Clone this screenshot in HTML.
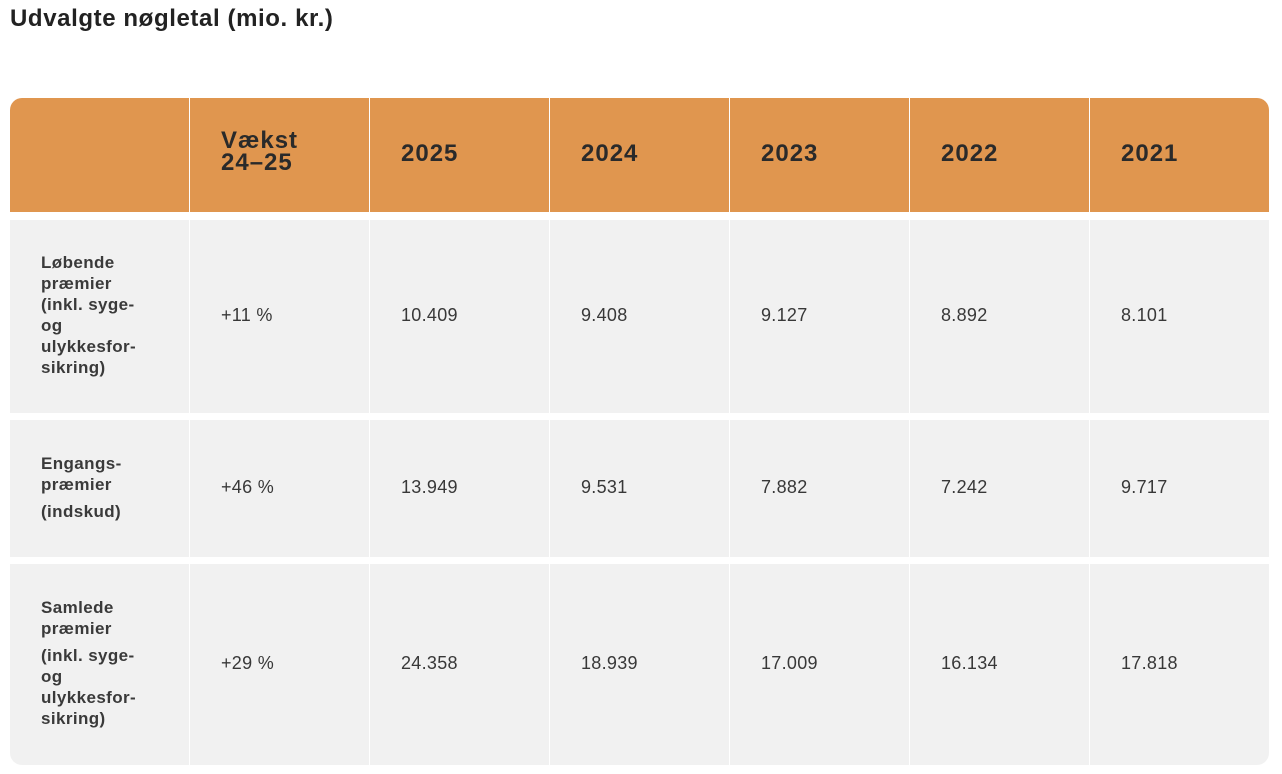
<!DOCTYPE html>
<html><head><meta charset="utf-8"><style>
body{margin:0;width:1282px;height:774px;background:#fff;font-family:"Liberation Sans",sans-serif;position:relative;overflow:hidden}
.t{position:absolute;left:10px;top:5px;font-size:24px;font-weight:bold;color:#222;letter-spacing:0.6px}
.c{position:absolute;box-sizing:border-box}
.h{background:#e0964f}
.b{background:#f1f1f1}
.ht{position:absolute;font-size:24px;font-weight:bold;color:#2a2a2a;line-height:22px;letter-spacing:1px}
.v{position:absolute;font-size:18px;color:#383838;line-height:20px;letter-spacing:0.3px}
.l{position:absolute;left:41px;font-size:17px;font-weight:bold;color:#3a3a3a;line-height:21px;letter-spacing:0.4px}
</style></head><body>
<div class="t">Udvalgte nøgletal (mio. kr.)</div>
<div class="c h" style="left:10px;top:98px;width:179px;height:114px;border-top-left-radius:12px"></div>
<div class="c h" style="left:190px;top:98px;width:179px;height:114px"></div>
<div class="c h" style="left:370px;top:98px;width:179px;height:114px"></div>
<div class="c h" style="left:550px;top:98px;width:179px;height:114px"></div>
<div class="c h" style="left:730px;top:98px;width:179px;height:114px"></div>
<div class="c h" style="left:910px;top:98px;width:179px;height:114px"></div>
<div class="c h" style="left:1090px;top:98px;width:179px;height:114px;border-top-right-radius:12px"></div>

<div class="c b" style="left:10px;top:220px;width:179px;height:193px"></div>
<div class="c b" style="left:190px;top:220px;width:179px;height:193px"></div>
<div class="c b" style="left:370px;top:220px;width:179px;height:193px"></div>
<div class="c b" style="left:550px;top:220px;width:179px;height:193px"></div>
<div class="c b" style="left:730px;top:220px;width:179px;height:193px"></div>
<div class="c b" style="left:910px;top:220px;width:179px;height:193px"></div>
<div class="c b" style="left:1090px;top:220px;width:179px;height:193px"></div>

<div class="c b" style="left:10px;top:420px;width:179px;height:137px"></div>
<div class="c b" style="left:190px;top:420px;width:179px;height:137px"></div>
<div class="c b" style="left:370px;top:420px;width:179px;height:137px"></div>
<div class="c b" style="left:550px;top:420px;width:179px;height:137px"></div>
<div class="c b" style="left:730px;top:420px;width:179px;height:137px"></div>
<div class="c b" style="left:910px;top:420px;width:179px;height:137px"></div>
<div class="c b" style="left:1090px;top:420px;width:179px;height:137px"></div>

<div class="c b" style="left:10px;top:564px;width:179px;height:201px;border-bottom-left-radius:12px"></div>
<div class="c b" style="left:190px;top:564px;width:179px;height:201px"></div>
<div class="c b" style="left:370px;top:564px;width:179px;height:201px"></div>
<div class="c b" style="left:550px;top:564px;width:179px;height:201px"></div>
<div class="c b" style="left:730px;top:564px;width:179px;height:201px"></div>
<div class="c b" style="left:910px;top:564px;width:179px;height:201px"></div>
<div class="c b" style="left:1090px;top:564px;width:179px;height:201px;border-bottom-right-radius:12px"></div>

<div class="ht" style="left:221px;top:130px">Vækst<br>24–25</div>
<div class="ht" style="left:401px;top:143px">2025</div>
<div class="ht" style="left:581px;top:143px">2024</div>
<div class="ht" style="left:761px;top:143px">2023</div>
<div class="ht" style="left:941px;top:143px">2022</div>
<div class="ht" style="left:1121px;top:143px">2021</div>

<div class="l" style="top:252px">Løbende<br>præmier<br>(inkl. syge-<br>og<br>ulykkesfor-<br>sikring)</div>
<div class="v" style="left:221px;top:305px">+11 %</div>
<div class="v" style="left:401px;top:305px">10.409</div>
<div class="v" style="left:581px;top:305px">9.408</div>
<div class="v" style="left:761px;top:305px">9.127</div>
<div class="v" style="left:941px;top:305px">8.892</div>
<div class="v" style="left:1121px;top:305px">8.101</div>

<div class="l" style="top:453px">Engangs-<br>præmier</div>
<div class="l" style="top:501px">(indskud)</div>
<div class="v" style="left:221px;top:477px">+46 %</div>
<div class="v" style="left:401px;top:477px">13.949</div>
<div class="v" style="left:581px;top:477px">9.531</div>
<div class="v" style="left:761px;top:477px">7.882</div>
<div class="v" style="left:941px;top:477px">7.242</div>
<div class="v" style="left:1121px;top:477px">9.717</div>

<div class="l" style="top:597px">Samlede<br>præmier</div>
<div class="l" style="top:645px">(inkl. syge-<br>og<br>ulykkesfor-<br>sikring)</div>
<div class="v" style="left:221px;top:653px">+29 %</div>
<div class="v" style="left:401px;top:653px">24.358</div>
<div class="v" style="left:581px;top:653px">18.939</div>
<div class="v" style="left:761px;top:653px">17.009</div>
<div class="v" style="left:941px;top:653px">16.134</div>
<div class="v" style="left:1121px;top:653px">17.818</div>
</body></html>
